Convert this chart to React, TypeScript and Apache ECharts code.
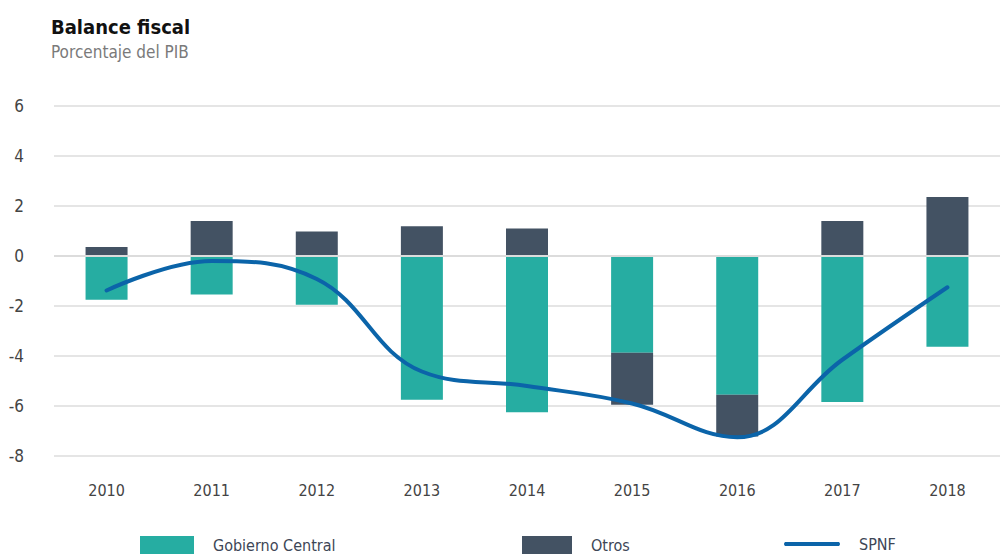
import React, { useEffect, useRef } from "react";
import * as echarts from "echarts";

const years = ["2010", "2011", "2012", "2013", "2014", "2015", "2016", "2017", "2018"];
const gobiernoCentral = [-1.75, -1.54, -1.95, -5.75, -6.25, -3.87, -5.55, -5.84, -3.63];
const otros = [0.36, 1.4, 0.98, 1.19, 1.1, -2.08, -1.67, 1.4, 2.36];
const spnf = [-1.38, -0.2, -0.92, -4.62, -5.2, -5.9, -7.25, -4.15, -1.25];

const FONT = "'DejaVu Sans Condensed', 'DejaVu Sans', sans-serif";
const TEAL = "#26ada2";
const SLATE = "#435263";
const BLUE = "#0b64a9";
const LEGEND_TEXT = {
  fontFamily: FONT,
  fontSize: 16,
  lineHeight: 16,
  color: "#3d4656",
  padding: [0, 0, 0, 14],
};

export default function App() {
  const ref = useRef<HTMLDivElement>(null);
  useEffect(() => {
    if (!ref.current) return;
    const chart = echarts.init(ref.current, undefined, { renderer: "svg" });
    chart.setOption({
      animation: false,
      textStyle: { fontFamily: FONT },
      title: {
        text: "Balance fiscal",
        subtext: "Porcentaje del PIB",
        left: 46,
        top: 12,
        itemGap: 6,
        textStyle: { fontFamily: FONT, fontSize: 20, fontWeight: "bold", color: "#111" },
        subtextStyle: { fontFamily: FONT, fontSize: 17, color: "#7a7a7a" },
      },
      grid: { left: 54, top: 106, width: 955, height: 350, containLabel: false },
      xAxis: {
        type: "category",
        data: years,
        axisLine: { show: false },
        axisTick: { show: false },
        axisLabel: { color: "#444", fontSize: 16, margin: 26, fontFamily: FONT },
      },
      yAxis: {
        type: "value",
        min: -8,
        max: 6,
        interval: 2,
        axisLine: { show: false },
        axisTick: { show: false },
        axisLabel: { color: "#444", fontSize: 17, margin: 30, fontFamily: FONT },
        splitLine: { lineStyle: { color: "#dcdcdc", width: 1.5 } },
      },
      legend: [
        {
          data: ["Gobierno Central"],
          left: 135,
          top: 531,
          itemWidth: 54,
          itemHeight: 18,
          icon: "rect",
          textStyle: LEGEND_TEXT,
        },
        {
          data: ["Otros"],
          left: 517,
          top: 531,
          itemWidth: 50,
          itemHeight: 18,
          icon: "rect",
          textStyle: LEGEND_TEXT,
        },
        {
          data: ["SPNF"],
          left: 779,
          top: 531,
          itemWidth: 56,
          itemHeight: 18,
          icon: "path://M2,0 L54,0 Q56,2 54,4 L2,4 Q0,2 2,0 Z",
          textStyle: LEGEND_TEXT,
        },
      ],
      series: [
        {
          name: "Gobierno Central",
          type: "bar",
          stack: "total",
          data: gobiernoCentral,
          barWidth: 42,
          itemStyle: { color: TEAL },
          markLine: {
            silent: true,
            symbol: "none",
            label: { show: false },
            lineStyle: { color: "#dcdcdc", width: 2, type: "solid" },
            data: [{ yAxis: 0 }],
          },
        },
        {
          name: "Otros",
          type: "bar",
          stack: "total",
          data: otros,
          barWidth: 42,
          itemStyle: { color: SLATE },
        },
        {
          name: "SPNF",
          type: "line",
          data: spnf,
          smooth: 0.4,
          showSymbol: false,
          symbol: "none",
          lineStyle: { color: BLUE, width: 4, cap: "round" },
          itemStyle: { color: BLUE },
          z: 5,
        },
      ],
    });
    return () => chart.dispose();
  }, []);
  return (
    <>
      <style>{`svg text { font-stretch: condensed !important; }`}</style>
      <div ref={ref} style={{ width: 1000, height: 554, position: "absolute", left: 0, top: 0 }} />
    </>
  );
}
